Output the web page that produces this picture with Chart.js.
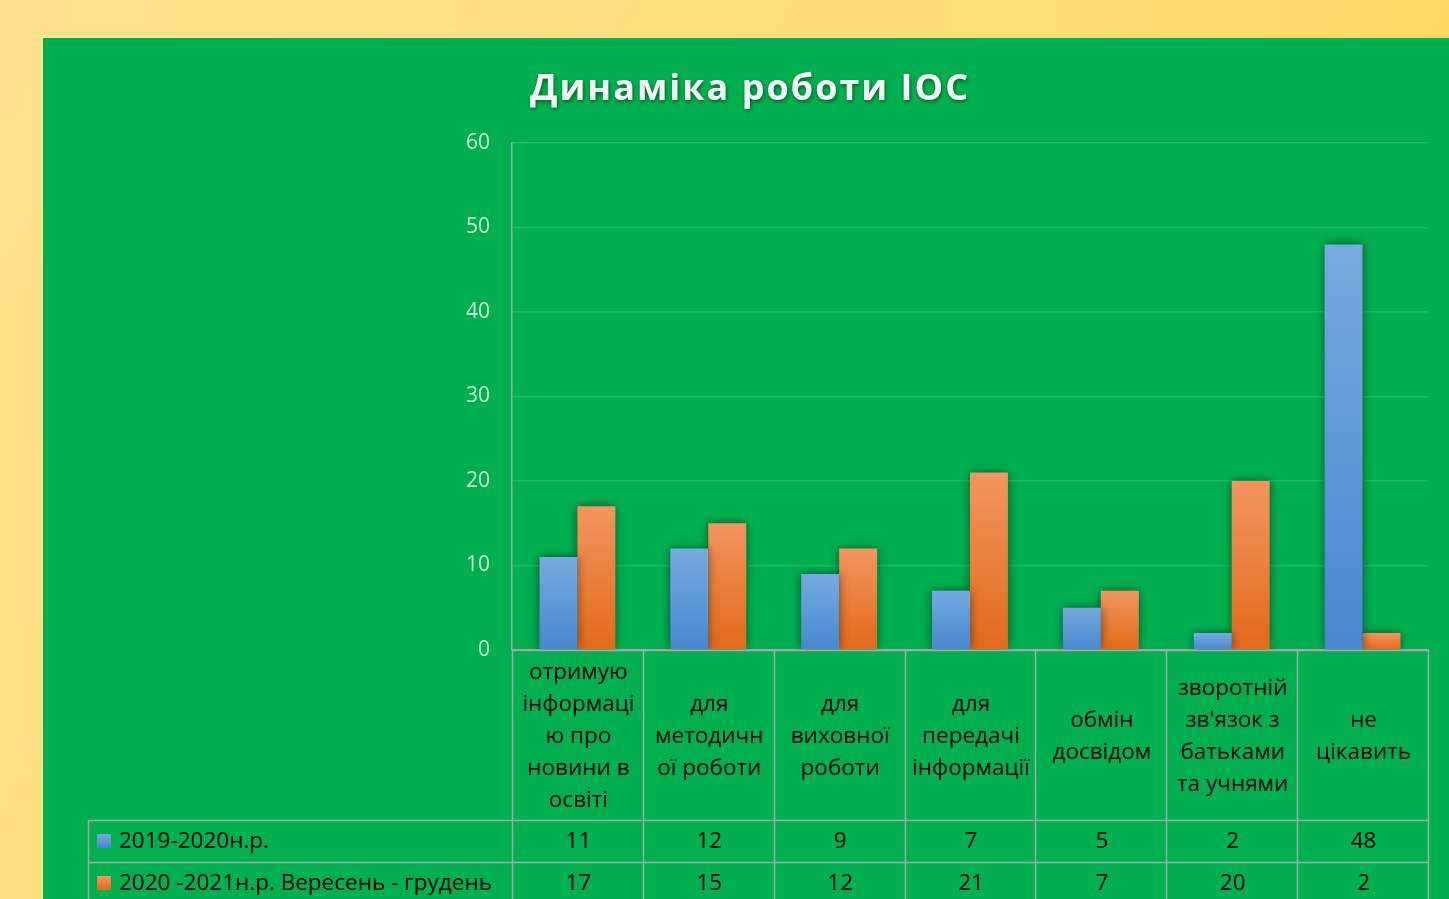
<!DOCTYPE html>
<html>
<head>
<meta charset="utf-8">
<script src="https://cdn.jsdelivr.net/npm/chart.js@4.4.1/dist/chart.umd.min.js"></script>
<style>
  html, body { margin: 0; padding: 0; width: 1449px; height: 899px; overflow: hidden; }
  body { background: linear-gradient(120deg, #ffe18e 0%, #ffdc74 55%, #ffd24e 100%); position: relative; }
  #panel { position: absolute; left: 43px; top: 38px; width: 1406px; height: 861px; background: #00b050; }
  canvas { display: block; }
</style>
</head>
<body>
<div id="panel"><canvas id="c" width="1406" height="861"></canvas></div>
<script>
const chartTitle = "Динаміка роботи ІОС";
const categories = [
  ["отримую", "інформаці", "ю про", "новини в", "освіті"],
  ["для", "методичн", "ої роботи"],
  ["для", "виховної", "роботи"],
  ["для", "передачі", "інформації"],
  ["обмін", "досвідом"],
  ["зворотній", "зв'язок з", "батьками", "та учнями"],
  ["не", "цікавить"]
];
const seriesNames = ["2019-2020н.р.", "2020 -2021н.р. Вересень - грудень"];
const values2019 = [11, 12, 9, 7, 5, 2, 48];
const values2020 = [17, 15, 12, 21, 7, 20, 2];
const yMin = 0, yMax = 60, yStep = 10;

const FONT = '"Open Sans", "Noto Sans", sans-serif';
const blueTop = '#76aadf', blueBot = '#4688cf';
const orangeTop = '#f2965f', orangeBot = '#e2691a';

function barGradient(top, bot) {
  return function(ctx) {
    const chart = ctx.chart;
    const ys = chart.scales.y;
    if (!ys || ctx.raw === undefined) return bot;
    const yTop = ys.getPixelForValue(ctx.raw);
    const yBase = ys.getPixelForValue(0);
    if (!isFinite(yTop) || !isFinite(yBase) || yTop === yBase) return bot;
    const g = chart.ctx.createLinearGradient(0, yTop, 0, yBase);
    g.addColorStop(0, top);
    g.addColorStop(1, bot);
    return g;
  };
}

const titlePlugin = {
  id: 'shadowTitle',
  afterDraw(chart) {
    const ctx = chart.ctx;
    ctx.save();
    ctx.font = 'bold 36px ' + FONT;
    try { ctx.letterSpacing = '2px'; } catch (e) {}
    ctx.fillStyle = '#f4f4f4';
    ctx.textAlign = 'center';
    ctx.textBaseline = 'middle';
    ctx.shadowColor = 'rgba(0,0,0,0.45)';
    ctx.shadowBlur = 4;
    ctx.shadowOffsetX = 1;
    ctx.shadowOffsetY = 2;
    ctx.fillText(chartTitle, chart.width / 2 + 4, 52);
    ctx.restore();
  }
};

const shadowPlugin = {
  id: 'barShadow',
  beforeDatasetsDraw(chart) {
    const ctx = chart.ctx;
    ctx.save();
    ctx.shadowColor = 'rgba(0,0,0,0.5)';
    ctx.shadowBlur = 10;
  },
  afterDatasetsDraw(chart) {
    chart.ctx.restore();
  }
};

const tablePlugin = {
  id: 'dataTable',
  afterDraw(chart) {
    const ctx = chart.ctx;
    const area = chart.chartArea;
    const xs = chart.scales.x;
    const n = categories.length;
    const colW = (area.right - area.left) / n;
    const headerTop = area.bottom;
    const headerBottom = headerTop + 170;
    const row1Bottom = headerBottom + 42;
    const row2Bottom = row1Bottom + 42;
    const tableLeft = 45;

    ctx.save();
    ctx.strokeStyle = '#a3aaa3';
    ctx.lineWidth = 1.5;
    ctx.beginPath();
    for (let i = 0; i <= n; i++) {
      const x = Math.round(area.left + i * colW) + 0.5;
      ctx.moveTo(x, headerTop);
      ctx.lineTo(x, row2Bottom);
    }
    ctx.moveTo(area.left, headerTop + 0.5); ctx.lineTo(area.right, headerTop + 0.5);
    [headerBottom, row1Bottom, row2Bottom].forEach(y => {
      ctx.moveTo(tableLeft, y + 0.5); ctx.lineTo(area.right, y + 0.5);
    });
    ctx.moveTo(tableLeft + 0.5, headerBottom); ctx.lineTo(tableLeft + 0.5, row2Bottom);
    ctx.stroke();

    ctx.fillStyle = '#000';
    ctx.font = '22.5px ' + FONT;
    ctx.textAlign = 'center';
    ctx.textBaseline = 'middle';
    const hc = (headerTop + headerBottom) / 2 + 2;
    categories.forEach((lines, i) => {
      const cx = xs.getPixelForValue(i) + 1;
      lines.forEach((t, j) => {
        ctx.fillText(t, cx, hc + (j - (lines.length - 1) / 2) * 32);
      });
    });

    const rows = [
      { name: seriesNames[0], vals: values2019, c1: blueTop, c2: blueBot, y: (headerBottom + row1Bottom) / 2 },
      { name: seriesNames[1], vals: values2020, c1: orangeTop, c2: orangeBot, y: (row1Bottom + row2Bottom) / 2 }
    ];
    rows.forEach(r => {
      r.vals.forEach((v, i) => {
        ctx.textAlign = 'center';
        ctx.fillText(String(v), xs.getPixelForValue(i) + 1, r.y + 1);
      });
      const g = ctx.createLinearGradient(0, r.y - 7, 0, r.y + 7);
      g.addColorStop(0, r.c1); g.addColorStop(1, r.c2);
      ctx.fillStyle = g;
      ctx.fillRect(54, r.y - 7, 14, 14);
      ctx.fillStyle = '#000';
      ctx.textAlign = 'left';
      ctx.fillText(r.name, 76, r.y + 1);
    });
    ctx.restore();
  }
};

new Chart(document.getElementById('c'), {
  type: 'bar',
  data: {
    labels: categories,
    datasets: [
      { label: seriesNames[0], data: values2019, backgroundColor: barGradient(blueTop, blueBot), borderWidth: 0 },
      { label: seriesNames[1], data: values2020, backgroundColor: barGradient(orangeTop, orangeBot), borderWidth: 0 }
    ]
  },
  options: {
    responsive: false,
    animation: false,
    devicePixelRatio: 1,
    layout: { padding: { left: 0, top: 105, right: 21, bottom: 249 } },
    categoryPercentage: 0.58,
    barPercentage: 1.0,
    plugins: {
      legend: { display: false },
      title: { display: false },
      tooltip: { enabled: false }
    },
    scales: {
      x: {
        ticks: { display: false },
        grid: { display: false, drawTicks: false },
        border: { display: true, color: '#a3aaa3', width: 1.5 },
        afterFit(s) { s.height = 0; }
      },
      y: {
        min: yMin, max: yMax,
        ticks: { stepSize: yStep, color: '#d6e6d6', font: { family: FONT, size: 21 }, padding: 22 },
        grid: { color: 'rgba(255,255,255,0.13)', lineWidth: 1.5, drawTicks: false },
        border: { display: true, color: '#a3aaa3', width: 1.5 },
        afterFit(s) { s.width = 469; }
      }
    }
  },
  plugins: [shadowPlugin, tablePlugin, titlePlugin]
});
</script>
</body>
</html>
